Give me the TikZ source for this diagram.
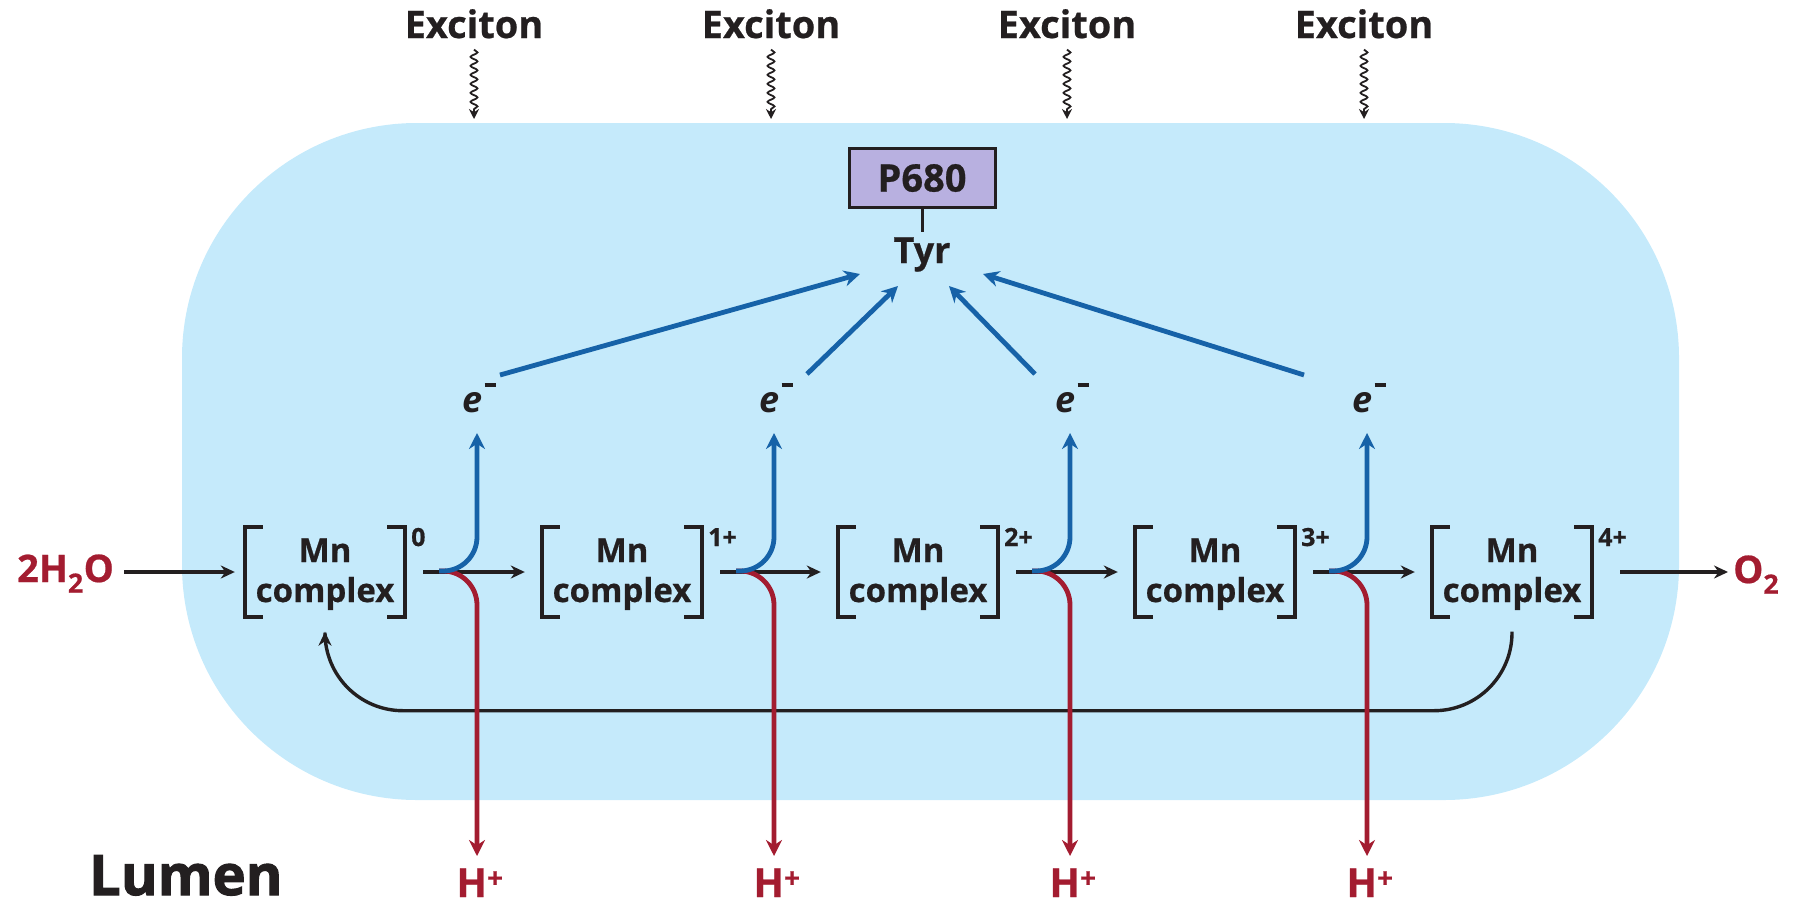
\documentclass[tikz,border=0pt]{standalone}
\usepackage{fontspec}
\setmainfont{Open Sans}[BoldFeatures={FakeBold=0.6}]
\newfontfamily\heavyfont{Open Sans}[BoldFeatures={FakeBold=1.8}]
\usetikzlibrary{arrows.meta,decorations.pathmorphing}
\definecolor{membrane}{RGB}{197,234,251}
\definecolor{ink}{RGB}{35,31,32}
\definecolor{eblue}{RGB}{22,98,168}
\definecolor{proton}{RGB}{163,28,48}
\definecolor{pigment}{RGB}{184,176,224}
\newcommand{\fsz}[1]{\fontsize{#1}{#1}\selectfont}

\begin{document}
\begin{tikzpicture}[x=1pt,y=-1pt,
  txt/.style={inner sep=0pt, text=ink, font=\bfseries\fsz{#1}},
  redtxt/.style={inner sep=0pt, text=proton, font=\bfseries\fsz{#1}},
  cplx/.style={minimum width=160pt, minimum height=89pt, inner sep=0pt},
  bracket/.style={draw=ink, line width=4pt},
  flow/.style={draw=ink, line width=3.4pt, -{Stealth[length=14pt,width=13pt]}},
  eflow/.style={draw=eblue, line width=4.8pt, -{Stealth[length=16pt,width=16pt]}},
  hflow/.style={draw=proton, line width=4.8pt, -{Stealth[length=16pt,width=16pt]}},
  wavy/.style={draw=ink, line width=1.8pt, decorate,
    decoration={snake, amplitude=3.5pt, segment length=9pt, post length=9pt},
    -{Stealth[length=10pt,width=10pt]}}]

\useasboundingbox (0,0) rectangle (1793,905);

% thylakoid membrane region
\fill[membrane, rounded corners=235pt] (182,123) rectangle (1679,800);

% incoming excitons
\foreach \k/\vx in {1/477, 2/774, 3/1070, 4/1367} {
  \node[txt=38, anchor=base] (x\k) at (\vx-3,38) {Exciton};
  \coordinate (w\k) at (\vx-3,119);
  \draw[wavy] ([yshift=-11pt]x\k.south) -- (w\k);
}

% P680 and tyrosine
\node[draw=ink, line width=3pt, fill=pigment, minimum width=146pt, minimum height=59pt,
      inner sep=0pt, font=\bfseries\fsz{38}, text=ink] (p680) at (922,178) {P680};
\node[txt=36, anchor=base] (tyr) at (922,263) {Tyr};
\draw[ink, line width=3pt] (p680.south) -- ([yshift=5pt]tyr.north);

% Mn complex states S0..S4
\foreach \c/\s/\n in {325/0/1, 622/1+/2, 918/2+/3, 1215/3+/4, 1512/4+/5} {
  \node[cplx] (m\n) at (\c,572) {};
  \draw[bracket] ([xshift=18pt]m\n.north west) -- (m\n.north west)
                 -- (m\n.south west) -- ([xshift=18pt]m\n.south west);
  \draw[bracket] ([xshift=-18pt]m\n.north east) -- (m\n.north east)
                 -- (m\n.south east) -- ([xshift=-18pt]m\n.south east);
  \node[txt=33, anchor=base] at (\c,562) {Mn};
  \node[txt=33, anchor=base] at (\c,602) {complex};
  \node[txt=25, anchor=base west] at (\c+86,546) {\s};
}

% water in, oxygen out
\node[redtxt=38, anchor=base west] (h2o) at (17,582) {2H\textsubscript{2}O};
\node[redtxt=38, anchor=base west] (o2) at (1733,583) {O\textsubscript{2}};
\draw[flow, shorten <=10pt, shorten >=10pt] (h2o.east |- m1.west) -- (m1.west);
\draw[flow, shorten <=28pt, shorten >=5pt] (m5.east) -- (o2.west |- m5.east);

% return from S4 to S0
\draw[flow, rounded corners=78pt, shorten <=15pt, shorten >=15pt]
  (m5.south) -- ++(0,94) -| (m1.south);

% electrons to Tyr, protons to the lumen
\foreach \k/\j/\vx in {1/2/477, 2/3/774, 3/4/1070, 4/5/1367} {
  \draw[flow, shorten <=18pt, shorten >=17pt] (m\k.east) -- (m\j.west);
  \coordinate (sp\k) at (\vx-38,571);
  \coordinate (up\k) at (\vx,433);
  \coordinate (dn\k) at (\vx,856);
  \node[inner sep=0pt, anchor=base, text=ink, font=\bfseries\itshape\fsz{36}] (e\k) at (\vx+2,412)
    {e\hspace{2pt}\raisebox{25pt}{\rule{11pt}{4pt}}};
  \node[redtxt=40, anchor=base] (h\k) at (\vx+3,897) {H\textsuperscript{+}};
  \draw[hflow, rounded corners=34pt] (sp\k) -| (dn\k);
  \draw[eflow, rounded corners=34pt] (sp\k) -| (up\k);
}

\coordinate (a1) at (500,375);  \coordinate (b1) at (860,274);
\coordinate (a2) at (807,374);  \coordinate (b2) at (898,286);
\coordinate (a3) at (1035,374); \coordinate (b3) at (949,286);
\coordinate (a4) at (1304,375); \coordinate (b4) at (983,274);
\foreach \k in {1,...,4} { \draw[eflow] (a\k) -- (b\k); }

\node[inner sep=0pt, anchor=base west, text=ink, font=\heavyfont\bfseries\fsz{56}] (lumen) at (89,895) {Lumen};

\end{tikzpicture}
\end{document}
